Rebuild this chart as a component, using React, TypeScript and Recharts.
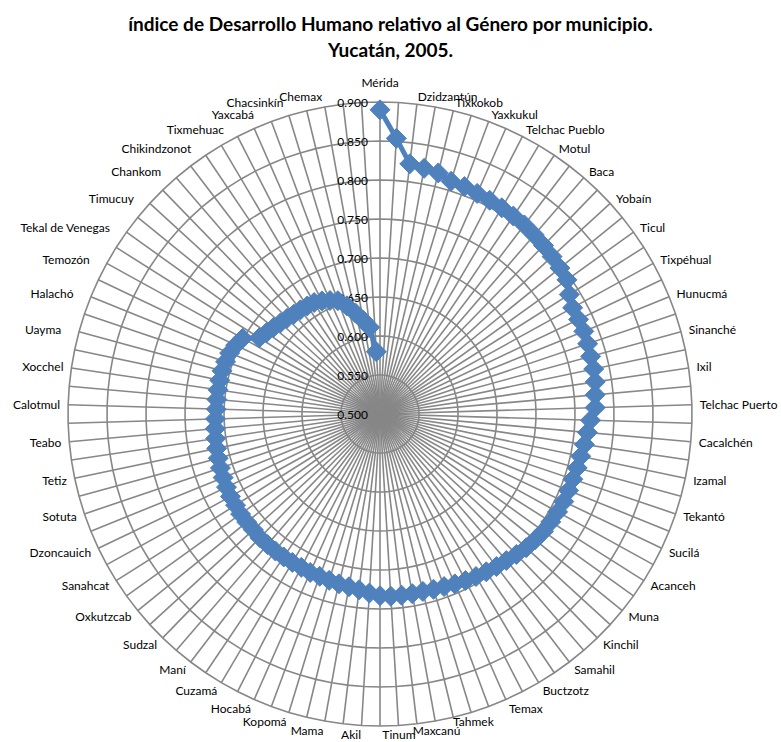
import { RadarChart, Radar, PolarGrid, PolarAngleAxis, PolarRadiusAxis } from 'recharts'

const municipios = [
  'Mérida', 'Dzidzantún', 'Tixkokob', 'Yaxkukul', 'Telchac Pueblo', 'Motul', 'Baca', 'Yobaín',
  'Ticul', 'Tixpéhual', 'Hunucmá', 'Sinanché', 'Ixil', 'Telchac Puerto', 'Cacalchén', 'Izamal',
  'Tekantó', 'Sucilá', 'Acanceh', 'Muna', 'Kinchil', 'Samahil', 'Buctzotz', 'Temax', 'Tahmek',
  'Maxcanú', 'Tinum', 'Akil', 'Mama', 'Kopomá', 'Hocabá', 'Cuzamá', 'Maní', 'Sudzal', 'Oxkutzcab',
  'Sanahcat', 'Dzoncauich', 'Sotuta', 'Tetiz', 'Teabo', 'Calotmul', 'Xocchel', 'Uayma', 'Halachó',
  'Temozón', 'Tekal de Venegas', 'Timucuy', 'Chankom', 'Chikindzonot', 'Tixmehuac', 'Yaxcabá',
  'Chacsinkín', 'Chemax',
]

// IDG por municipio, 106 valores (solo uno de cada dos lleva nombre en el gráfico)
const idg = [
  0.890, 0.854, 0.823, 0.820, 0.818, 0.812, 0.811, 0.809, 0.808, 0.807,
  0.806, 0.805, 0.803, 0.801, 0.799, 0.797, 0.795, 0.787, 0.782, 0.782,
  0.782, 0.781, 0.780, 0.780, 0.779, 0.777, 0.776, 0.770, 0.767, 0.765,
  0.763, 0.762, 0.761, 0.761, 0.761, 0.760, 0.759, 0.758, 0.756, 0.754,
  0.751, 0.748, 0.746, 0.744, 0.742, 0.740, 0.738, 0.736, 0.735, 0.734,
  0.734, 0.734, 0.734, 0.733, 0.730, 0.727, 0.725, 0.724, 0.723, 0.722,
  0.722, 0.721, 0.721, 0.721, 0.721, 0.721, 0.721, 0.720, 0.720, 0.720,
  0.719, 0.719, 0.718, 0.717, 0.716, 0.715, 0.714, 0.713, 0.712, 0.711,
  0.710, 0.710, 0.710, 0.710, 0.710, 0.709, 0.708, 0.705, 0.701, 0.683,
  0.679, 0.676, 0.673, 0.671, 0.669, 0.668, 0.667, 0.666, 0.663, 0.659,
  0.655, 0.645, 0.633, 0.622, 0.612, 0.580,
]

const radiusTicks = [0.5, 0.55, 0.6, 0.65, 0.7, 0.75, 0.8, 0.85, 0.9]

// el eje radial empieza en 0.500: se trabaja en milésimas sobre ese minimo
// (numeros enteros, para que Recharts no amplie el dominio)
const BASE = 0.5
const toAxis = (v: number) => Math.round((v - BASE) * 1000)

const data = idg.map((v, i) => ({
  idx: i,
  name: i % 2 === 0 ? municipios[i / 2] : '',
  idg: toAxis(v),
}))

const CX = 380
const CY = 414
const R = 312
const BLUE = '#4F81BD'
const FONT = 'Lato, "Open Sans", sans-serif'

function AngleTick(props: any) {
  const { payload } = props
  const name = data[payload.value]?.name
  if (!name) return null
  // angulo en grados, sentido horario desde arriba
  let theta = 90 - payload.coordinate
  theta = ((theta % 360) + 360) % 360
  const rad = (-payload.coordinate * Math.PI) / 180
  const cos = Math.cos(rad)
  const sin = Math.sin(rad)
  const r = R + 8
  let x = CX + r * cos
  let y = CY + r * sin
  let anchor = 'start'
  if (theta < 3 || theta > 357) {
    anchor = 'middle'
    y -= 12
  } else if (theta >= 160 && theta <= 178) {
    anchor = 'middle'
  } else if (theta > 178) {
    anchor = 'end'
    if (theta > 280) x -= 10
    if (theta > 335) x -= theta < 350 ? theta - 335 : 10
  }
  if (sin > 0) y += 1.5 * sin
  return (
    <text x={x} y={y} textAnchor={anchor} dominantBaseline="central" fontSize={12} fontFamily={FONT} fill="#000">
      {name}
    </text>
  )
}

function RadiusTick(props: any) {
  const { x, y, payload } = props
  return (
    <text x={x - 12} y={y} textAnchor="end" dominantBaseline="central" fontSize={12} fontFamily={FONT} fill="#000">
      {(BASE + Number(payload.value) / 1000).toFixed(3)}
    </text>
  )
}

function Diamond(props: any) {
  const { cx, cy, index } = props
  const s = 10
  return (
    <polygon
      key={index}
      points={`${cx},${cy - s} ${cx + s},${cy} ${cx},${cy + s} ${cx - s},${cy}`}
      fill={BLUE}
      stroke={BLUE}
      strokeWidth={1}
    />
  )
}

// Excel no cierra la linea del radar: se dibuja abierta
function OpenLine(props: any) {
  const pts: Array<{ x: number; y: number }> = props.points || []
  if (!pts.length) return null
  const d = pts.map((p, i) => `${i === 0 ? 'M' : 'L'}${p.x},${p.y}`).join(' ')
  return <path d={d} fill="none" stroke={BLUE} strokeWidth={5} strokeLinejoin="round" />
}

export default function App() {
  return (
    <div style={{ position: 'absolute', left: 0, top: 0, width: 781, height: 742, background: '#fff', overflow: 'hidden' }}>
      <div
        style={{
          position: 'absolute',
          top: 11,
          left: 0,
          width: 781,
          textAlign: 'center',
          fontFamily: FONT,
          fontWeight: 700,
          fontSize: 19,
          lineHeight: '26px',
          color: '#000',
        }}
      >
        índice de Desarrollo Humano relativo al Género por municipio.
        <br />
        Yucatán, 2005.
      </div>
      <RadarChart width={781} height={742} cx={CX} cy={CY} outerRadius={R} data={data} startAngle={90} endAngle={-270}>
        <PolarGrid stroke="#878787" strokeWidth={1.6} />
        <PolarAngleAxis dataKey="idx" type="category" tick={<AngleTick />} tickLine={false} axisLine={false} />
        <PolarRadiusAxis
          type="number"
          angle={90}
          domain={[0, 400]}
          allowDataOverflow
          ticks={radiusTicks.map(toAxis)}
          tickCount={5}
          axisLine={false}
          tickLine={false}
          tick={<RadiusTick />}
        />
        <Radar
          dataKey="idg"
          stroke={BLUE}
          strokeWidth={5}
          fill="none"
          fillOpacity={0}
          shape={OpenLine}
          dot={Diamond}
          isAnimationActive={false}
        />
      </RadarChart>
    </div>
  )
}
